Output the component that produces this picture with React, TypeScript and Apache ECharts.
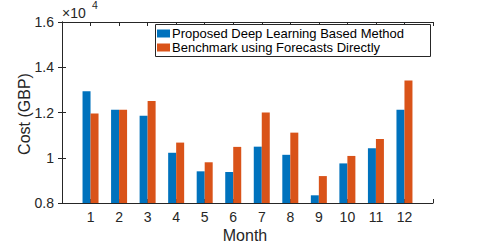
import React, { useEffect, useRef } from "react";
import * as echarts from "echarts";

const months = [1, 2, 3, 4, 5, 6, 7, 8, 9, 10, 11, 12];
const proposed = [1.294, 1.212, 1.186, 1.022, 0.94, 0.937, 1.049, 1.013, 0.834, 0.975, 1.042, 1.212];
const benchmark = [1.196, 1.212, 1.251, 1.067, 0.98, 1.048, 1.2, 1.111, 0.919, 1.008, 1.083, 1.341];
const yTicks = [0.8, 1.0, 1.2, 1.4, 1.6];
const seriesNames = ["Proposed Deep Learning Based Method", "Benchmark using Forecasts Directly"];
const xName = "Month";
const yName = "Cost (GBP)";

const FONT = "'Liberation Sans', Arial, Helvetica, sans-serif";
const INK = "#262626";

export default function App() {
  const ref = useRef<HTMLDivElement>(null);
  useEffect(() => {
    if (!ref.current) return;
    const chart = echarts.init(ref.current, undefined, { renderer: "svg" });
    const axisLine = { show: true, lineStyle: { color: INK, width: 1 } };
    const tickStyle = { show: true, inside: true, length: 4, lineStyle: { color: INK, width: 1 } };
    chart.setOption({
      animation: false,
      textStyle: { fontFamily: FONT },
      grid: { left: 62, right: 46, top: 22, bottom: 41, containLabel: false },
      legend: {
        orient: "vertical",
        left: 155,
        top: 24,
        icon: "rect",
        itemWidth: 13,
        itemHeight: 8,
        itemGap: 1,
        padding: [3, 0, 3, 2],
        borderWidth: 0,
        textStyle: { fontFamily: FONT, fontSize: 13, color: "#000", padding: [0, 0, 0, -3] },
        data: seriesNames,
      },
      graphic: [
        {
          type: "rect",
          shape: { x: 155.5, y: 24.5, width: 275, height: 32 },
          style: { fill: "#fff", stroke: INK, lineWidth: 1 },
          z: 3,
        },
        {
          type: "text",
          x: 62,
          y: 13.4,
          style: { text: "×10", fontFamily: FONT, fontSize: 14, fill: INK, verticalAlign: "middle", align: "left" },
        },
        {
          type: "text",
          x: 92,
          y: 5,
          style: { text: "4", fontFamily: FONT, fontSize: 10.5, fill: INK, verticalAlign: "middle", align: "left" },
        },
        {
          type: "text",
          x: 245,
          y: 235,
          style: { text: xName, fontFamily: FONT, fontSize: 16, fill: INK, verticalAlign: "middle", align: "center" },
        },
        {
          type: "text",
          x: 24.5,
          y: 114,
          rotation: Math.PI / 2,
          style: { text: yName, fontFamily: FONT, fontSize: 16, fill: INK, verticalAlign: "middle", align: "center" },
        },
      ],
      xAxis: [
        {
          type: "value",
          min: 0,
          max: 13,
          interval: 1,
          axisLine,
          axisTick: tickStyle,
          splitLine: { show: false },
          axisLabel: {
            fontFamily: FONT,
            fontSize: 14,
            color: INK,
            margin: 7,
            formatter: (v: number) => (months.includes(v) ? String(v) : ""),
          },
        },
        {
          type: "value",
          position: "top",
          min: 0,
          max: 13,
          interval: 1,
          axisLine,
          axisTick: tickStyle,
          splitLine: { show: false },
          axisLabel: { show: false },
        },
      ],
      yAxis: [
        {
          type: "value",
          min: 0.8,
          max: 1.6,
          interval: 0.2,
          axisLine,
          axisTick: tickStyle,
          splitLine: { show: false },
          axisLabel: {
            fontFamily: FONT,
            fontSize: 14,
            color: INK,
            margin: 8,
            formatter: (v: number) => {
              const t = yTicks.find((k) => Math.abs(k - v) < 1e-6);
              return t === undefined ? "" : String(parseFloat(t.toFixed(1)));
            },
          },
        },
        {
          type: "value",
          position: "right",
          min: 0.8,
          max: 1.6,
          interval: 0.2,
          axisLine,
          axisTick: tickStyle,
          splitLine: { show: false },
          axisLabel: { show: false },
        },
      ],
      series: [
        {
          name: seriesNames[0],
          type: "bar",
          xAxisIndex: 0,
          yAxisIndex: 0,
          barWidth: 8,
          barGap: "0%",
          itemStyle: { color: "#0072BD" },
          data: months.map((m, i) => [m, proposed[i]]),
        },
        {
          name: seriesNames[1],
          type: "bar",
          xAxisIndex: 0,
          yAxisIndex: 0,
          barWidth: 8,
          barGap: "0%",
          itemStyle: { color: "#D95319" },
          data: months.map((m, i) => [m, benchmark[i]]),
        },
      ],
    });
    return () => chart.dispose();
  }, []);
  return <div ref={ref} style={{ width: 479, height: 244, position: "absolute", left: 0, top: 0 }} />;
}
